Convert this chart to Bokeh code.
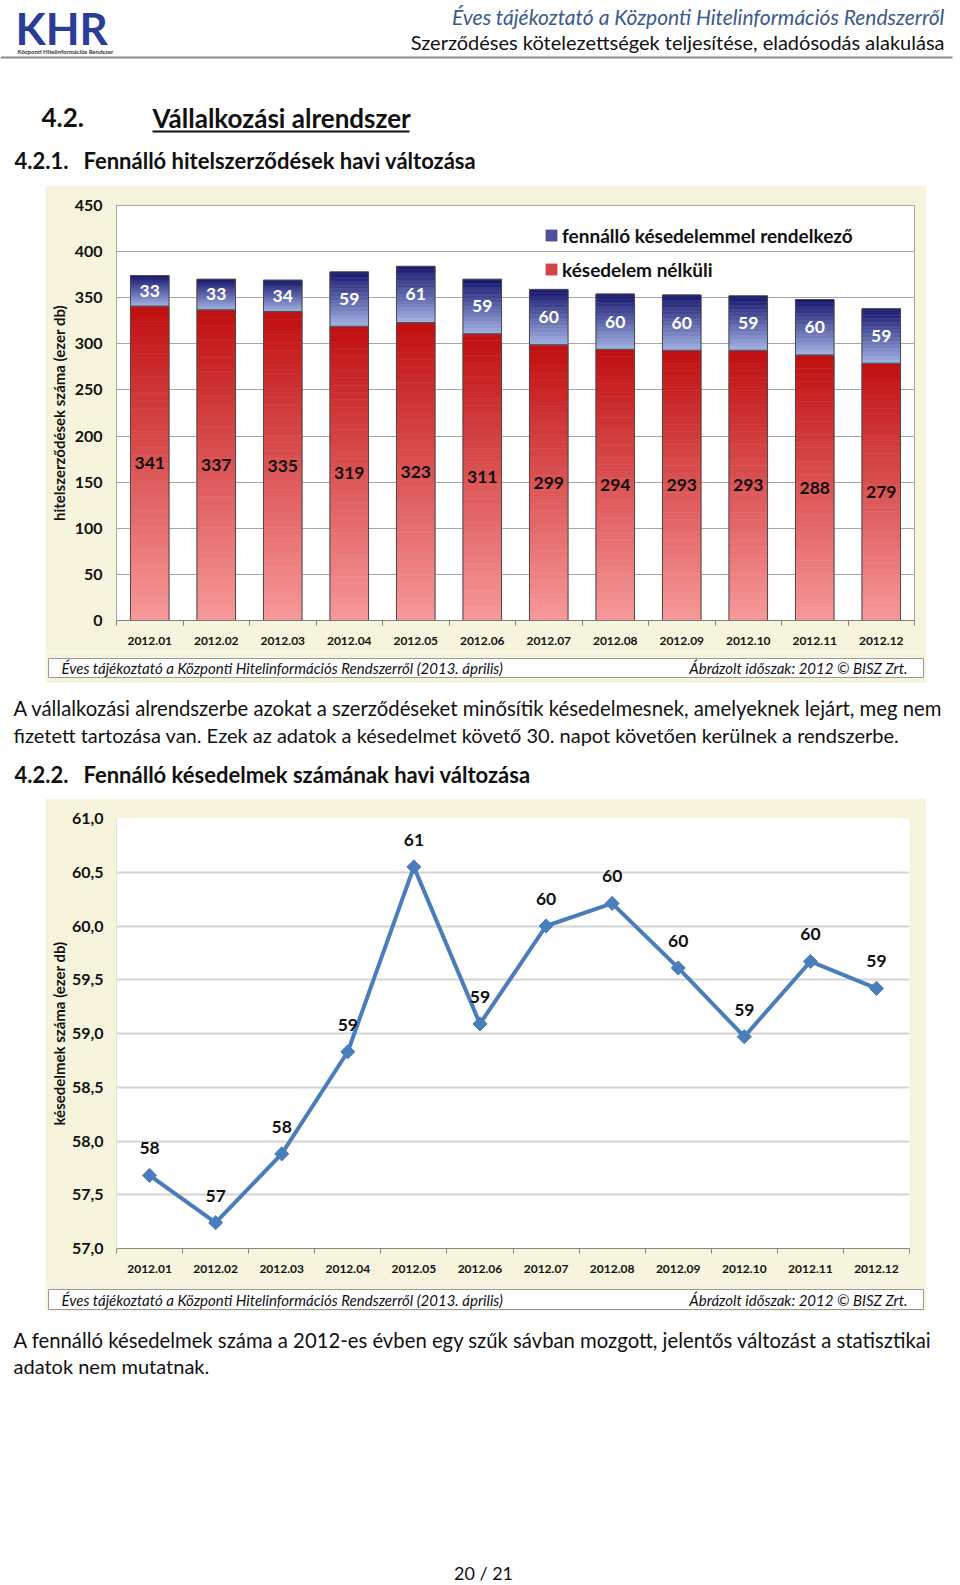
import numpy as np
from bokeh.plotting import figure
from bokeh.layouts import column, row
from bokeh.models import Range1d, FixedTicker, Legend, LegendItem, Spacer
from bokeh.core.properties import value
from bokeh.embed import file_html
from bokeh.resources import INLINE

# ---------------- data ----------------
months = ["2012.01", "2012.02", "2012.03", "2012.04", "2012.05", "2012.06",
          "2012.07", "2012.08", "2012.09", "2012.10", "2012.11", "2012.12"]
no_delay = [341, 337, 335, 319, 323, 311, 299, 294, 293, 293, 288, 279]
with_delay = [33, 33, 34, 59, 61, 59, 60, 60, 60, 59, 60, 59]
bar_y_ticks = [0, 50, 100, 150, 200, 250, 300, 350, 400, 450]

delay_counts = [57.68, 57.24, 57.88, 58.83, 60.55, 59.09, 60.00, 60.21, 59.61, 58.97, 59.67, 59.42]
delay_labels = ["58", "57", "58", "59", "61", "59", "60", "60", "60", "59", "60", "59"]
line_y_ticks = [57.0, 57.5, 58.0, 58.5, 59.0, 59.5, 60.0, 60.5, 61.0]
line_y_tick_labels = ["57,0", "57,5", "58,0", "58,5", "59,0", "59,5", "60,0", "60,5", "61,0"]

legend_labels = ["fennálló késedelemmel rendelkező", "késedelem nélküli"]
source_note = "Éves tájékoztató a Központi Hitelinformációs Rendszerről (2013. április)"
period_note = "Ábrázolt időszak: 2012 © BISZ Zrt."

FONT = "Lato"
BEIGE = "#f6f4dc"
W = 960
N_SLICES = 40


def page_fig(h):
    f = figure(width=W, height=h, x_range=Range1d(0, W), y_range=Range1d(h, 0),
               output_backend="svg", toolbar_location=None, min_border=0,
               x_axis_location=None, y_axis_location=None,
               background_fill_color="white", border_fill_color="white",
               outline_line_color=None)
    f.grid.visible = False
    return f


def txt(f, x, y, s, size, style="normal", color="#111111", align="left", baseline="middle"):
    f.text(x=[x], y=[y], text=[s], text_font=value(FONT), text_font_size=size,
           text_font_style=style, text_color=color, text_align=align,
           text_baseline=baseline)


def hex2rgb(h):
    return np.array([int(h[i:i + 2], 16) for i in (1, 3, 5)], dtype=float)


def gradient_bars(p, xs, bottoms, tops, c_top, c_bot, half=0.29, n=N_SLICES):
    ct, cb = hex2rgb(c_top), hex2rgb(c_bot)
    L, R, B, T, C = [], [], [], [], []
    for x, b, t in zip(xs, bottoms, tops):
        for k in range(n):
            y0 = b + (t - b) * k / n
            y1 = b + (t - b) * (k + 1) / n
            fr = (k + 0.5) / n
            c = cb + (ct - cb) * fr
            L.append(x - half); R.append(x + half); B.append(y0); T.append(y1)
            C.append("#%02x%02x%02x" % tuple(int(round(v)) for v in c))
    r = p.quad(left=L, right=R, bottom=B, top=T, fill_color=C, line_color=C, line_width=0.6)
    p.quad(left=[x - half for x in xs], right=[x + half for x in xs],
           bottom=list(bottoms), top=list(tops), fill_color=None,
           line_color="#4a4a4a", line_width=1)
    return r


def style_axes(p, ylabel, label_standoff=14, title_standoff=4):
    p.yaxis.major_tick_line_color = None
    p.yaxis.minor_tick_line_color = None
    p.yaxis.major_tick_out = 0
    p.yaxis.major_tick_in = 0
    p.yaxis.minor_tick_out = 0
    p.yaxis.major_label_standoff = label_standoff
    p.yaxis.major_label_text_font = FONT
    p.yaxis.major_label_text_font_size = "16px"
    p.yaxis.major_label_text_font_style = "bold"
    p.yaxis.major_label_text_color = "#111111"
    p.yaxis.axis_label = ylabel
    p.yaxis.axis_label_text_font = FONT
    p.yaxis.axis_label_text_font_size = "15px"
    p.yaxis.axis_label_text_font_style = "bold"
    p.yaxis.axis_label_text_color = "#111111"
    p.yaxis.axis_label_standoff = title_standoff
    p.xaxis.ticker = FixedTicker(ticks=x_idx, minor_ticks=minor)
    p.xaxis.major_label_overrides = label_map
    p.xaxis.major_tick_out = 0
    p.xaxis.major_tick_in = 0
    p.xaxis.minor_tick_out = 5
    p.xaxis.minor_tick_in = 0
    p.xaxis.major_label_standoff = 11
    p.xaxis.major_label_text_font = FONT
    p.xaxis.major_label_text_font_size = "12px"
    p.xaxis.major_label_text_font_style = "bold"
    p.xaxis.major_label_text_color = "#111111"


x_idx = [i + 1 for i in range(len(months))]
minor = [i + 0.5 for i in range(len(months) + 1)]
label_map = {i: m for i, m in zip(x_idx, months)}

# ---------------- top of page ----------------
top = page_fig(185)
txt(top, 15, 27, "KHR", "44px", "bold", "#2b3c98")
txt(top, 17, 51, "Központi Hitelinformációs Rendszer", "6px", "bold", "#333333")
txt(top, 944, 16, "Éves tájékoztató a Központi Hitelinformációs Rendszerről", "21px", "italic", "#3a5a8c", "right")
txt(top, 944, 41, "Szerződéses kötelezettségek teljesítése, eladósodás alakulása", "20px", "normal", "#111111", "right")
top.segment(x0=[0], y0=[57], x1=[952], y1=[57], line_color="#8c8c8c", line_width=2)
txt(top, 41, 117, "4.2.", "26px", "bold")
txt(top, 152, 117, "Vállalkozási alrendszer", "26px", "bold")
top.segment(x0=[152], y0=[131], x1=[409], y1=[131], line_color="#111111", line_width=2)
txt(top, 14, 160, "4.2.1.", "22px", "bold")
txt(top, 83, 160, "Fennálló hitelszerződések havi változása", "22px", "bold")

# ---------------- chart 1 ----------------
p1 = figure(width=881, height=467, x_range=Range1d(0.5, 12.5), y_range=Range1d(0, 450),
            output_backend="svg", toolbar_location=None,
            min_border_left=71, min_border_right=12, min_border_top=20, min_border_bottom=32,
            background_fill_color="white", border_fill_color=BEIGE,
            outline_line_color="#a6a6a6")
p1.xgrid.visible = False
p1.ygrid.ticker = FixedTicker(ticks=bar_y_ticks)
p1.ygrid.grid_line_color = "#a6a6a6"
p1.yaxis.ticker = FixedTicker(ticks=bar_y_ticks)
style_axes(p1, "hitelszerződések száma (ezer db)")
p1.yaxis.axis_line_color = "#a6a6a6"
p1.xaxis.minor_tick_line_color = "#7f7f7f"
p1.xaxis.axis_line_color = "#7f7f7f"

red_top = [r for r in no_delay]
stack_top = [r + b for r, b in zip(no_delay, with_delay)]
red_r = gradient_bars(p1, x_idx, [0] * len(no_delay), red_top, "#c00f10", "#f7999a")
blue_r = gradient_bars(p1, x_idx, red_top, stack_top, "#15156c", "#a2b2e4")

red_mid = [r / 2 for r in no_delay]
blue_mid = [r + b / 2 for r, b in zip(no_delay, with_delay)]
p1.text(x=x_idx, y=red_mid, text=[str(v) for v in no_delay], text_font=value(FONT),
        text_font_size="17.5px", text_font_style="bold", text_color="#111111",
        text_align="center", text_baseline="middle")
p1.text(x=x_idx, y=blue_mid, text=[str(v) for v in with_delay], text_font=value(FONT),
        text_font_size="17.5px", text_font_style="bold", text_color="white",
        text_align="center", text_baseline="middle")

legend = Legend(items=[LegendItem(label=legend_labels[0], renderers=[blue_r], index=int(N_SLICES * 0.6)),
                       LegendItem(label=legend_labels[1], renderers=[red_r], index=int(N_SLICES * 0.6))],
                location=(428, 334), orientation="vertical",
                background_fill_alpha=0, border_line_color=None, padding=0, margin=0,
                spacing=0, label_text_font=FONT, label_text_font_size="19px",
                label_text_font_style="bold", label_text_color="#111111",
                glyph_width=14, glyph_height=14, label_height=34, label_standoff=4)
p1.add_layout(legend)


def footer_fig(h, box_top, box_bot):
    f = figure(width=881, height=h, x_range=Range1d(0, 881), y_range=Range1d(h, 0),
               output_backend="svg", toolbar_location=None, min_border=0,
               x_axis_location=None, y_axis_location=None,
               background_fill_color=BEIGE, border_fill_color=BEIGE, outline_line_color=None)
    f.grid.visible = False
    f.quad(left=[3], right=[878], top=[box_top], bottom=[box_bot], fill_color="white",
           line_color="#9a9a9a", line_width=1)
    mid = (box_top + box_bot) / 2
    txt(f, 16, mid, source_note, "15px", "italic", "#111111")
    txt(f, 862, mid, period_note, "15px", "italic", "#111111", "right")
    return f


f1 = footer_fig(31, 6, 25)

# ---------------- middle text ----------------
mid = page_fig(115)
txt(mid, 13, 24, "A vállalkozási alrendszerbe azokat a szerződéseket minősítik késedelmesnek, amelyeknek lejárt, meg nem", "20.3px")
txt(mid, 13, 51, "fizetett tartozása van. Ezek az adatok a késedelmet követő 30. napot követően kerülnek a rendszerbe.", "20px")
txt(mid, 14, 91, "4.2.2.", "22px", "bold")
txt(mid, 83, 91, "Fennálló késedelmek számának havi változása", "22px", "bold")

# ---------------- chart 2 ----------------
p2 = figure(width=881, height=483, x_range=Range1d(0.5, 12.5), y_range=Range1d(57, 61),
            output_backend="svg", toolbar_location=None,
            min_border_left=71, min_border_right=17, min_border_top=20, min_border_bottom=33,
            background_fill_color="white", border_fill_color=BEIGE, outline_line_color=None)
p2.xgrid.visible = False
p2.ygrid.ticker = FixedTicker(ticks=line_y_ticks)
p2.ygrid.grid_line_color = "#d4d4d4"
p2.ygrid.grid_line_width = 2
p2.yaxis.ticker = FixedTicker(ticks=line_y_ticks)
p2.yaxis.major_label_overrides = {t: s for t, s in zip(line_y_ticks, line_y_tick_labels)}
style_axes(p2, "késedelmek száma (ezer db)", label_standoff=13, title_standoff=1)
p2.yaxis.axis_line_color = "#e0e0e0"
p2.xaxis.minor_tick_line_color = "#868686"
p2.xaxis.axis_line_color = "#868686"

p2.line(x=x_idx, y=delay_counts, line_color="#4a7ebb", line_width=4)
p2.scatter(x=x_idx, y=delay_counts, marker="square", angle=np.pi / 4, size=10,
           fill_color="#4a7ebb", line_color="#4a7ebb")
p2.text(x=x_idx, y=delay_counts, text=delay_labels, y_offset=-27, text_font=value(FONT),
        text_font_size="17.5px", text_font_style="bold", text_color="#111111",
        text_align="center", text_baseline="middle")

f2 = footer_fig(30, 8, 28)

# ---------------- bottom text ----------------
bot = page_fig(274)
txt(bot, 13, 28, "A fennálló késedelmek száma a 2012-es évben egy szűk sávban mozgott, jelentős változást a statisztikai", "20.3px")
txt(bot, 13, 54, "adatok nem mutatnak.", "20px")
txt(bot, 483, 261, "20 / 21", "18px", "normal", "#111111", "center")

layout = column(
    top,
    row(Spacer(width=45, height=467), p1, Spacer(width=34, height=467)),
    row(Spacer(width=45, height=31), f1, Spacer(width=34, height=31)),
    mid,
    row(Spacer(width=45, height=483), p2, Spacer(width=34, height=483)),
    row(Spacer(width=45, height=30), f2, Spacer(width=34, height=30)),
    bot,
)

open("out.html", "w").write(file_html(layout, INLINE))
